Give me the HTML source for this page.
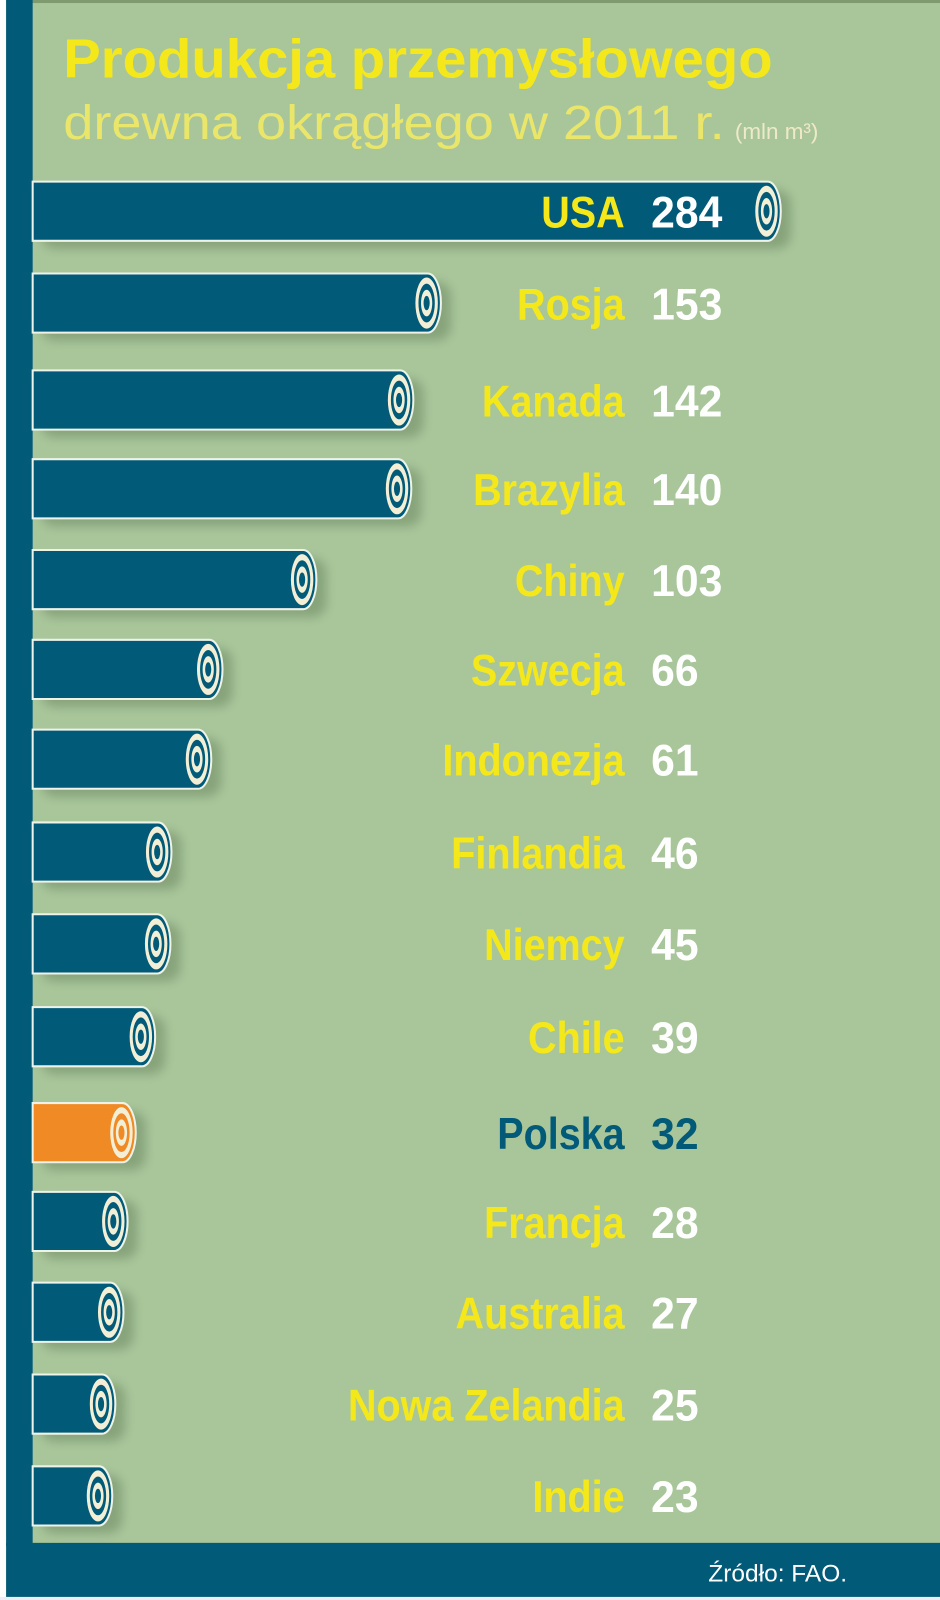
<!DOCTYPE html>
<html><head><meta charset="utf-8"><style>
body{margin:0;width:940px;height:1600px;overflow:hidden;background:#fff}
svg{display:block}
.l{font-family:"Liberation Sans",sans-serif;font-weight:bold;font-size:44px;fill:#f5e81a;text-anchor:end}
.v{font-family:"Liberation Sans",sans-serif;font-weight:bold;font-size:44px;fill:#fff}
</style></head><body>
<svg width="940" height="1600" viewBox="0 0 921 1568" preserveAspectRatio="none">
<defs><filter id="sh" x="-10%" y="-30%" width="130%" height="180%"><feGaussianBlur stdDeviation="5"/></filter></defs>
<rect x="0" y="0" width="921" height="1568" fill="#a9c69b"/>
<rect x="0" y="0" width="921" height="3" fill="#7f9a6e"/>
<rect x="0" y="0" width="6" height="1568" fill="#fff"/>
<rect x="6" y="0" width="26" height="1515" fill="#005a78"/>
<rect x="6" y="1512" width="915" height="53" fill="#005a78"/>
<rect x="0" y="1565" width="921" height="3" fill="#e8f0f4"/>
<text x="62" y="76" font-family="Liberation Sans,sans-serif" font-weight="bold" font-size="54" fill="#f5e81a" textLength="695" lengthAdjust="spacingAndGlyphs">Produkcja przemysłowego</text>
<text x="62" y="136" font-family="Liberation Sans,sans-serif" font-size="47" fill="#eae66a" textLength="648" lengthAdjust="spacingAndGlyphs">drewna okrągłego w 2011 r.</text>
<text x="720" y="136" font-family="Liberation Sans,sans-serif" font-size="22" fill="#efe9c8">(mln m³)</text>
<text x="830" y="1550" font-family="Liberation Sans,sans-serif" font-size="24" fill="#fff" text-anchor="end">Źródło: FAO.</text>
<g id="bars"></g>
</svg>
<script>
var d=[["USA",284,207,765],["Rosja",153,297,432],["Kanada",142,392,405],["Brazylia",140,479,403],["Chiny",103,568,310],["Szwecja",66,656,218],["Indonezja",61,744,207],["Finlandia",46,835,168],["Niemcy",45,925,167],["Chile",39,1016,152],["Polska",32,1110,133],["Francja",28,1197,125],["Australia",27,1286,121],["Nowa Zelandia",25,1376,113],["Indie",23,1466,110]];
var s="";
d.forEach(function(r){
 var cy=r[2],e=r[3],h=58,t=cy-29,col=r[0]=="Polska"?"#f08a24":"#005a78";
 s+='<rect x="40" y="'+(t+8)+'" width="'+(e-30)+'" height="'+h+'" rx="14" fill="#5f7a55" opacity="0.45" filter="url(#sh)"/>';
 s+='<path d="M32 '+t+' H'+(e-13)+' A13 29 0 0 1 '+(e-13)+' '+(t+h)+' H32 Z" fill="'+col+'" stroke="#eef3ea" stroke-width="2"/>';
 var cx=e-14;
 s+='<ellipse cx="'+cx+'" cy="'+cy+'" rx="11" ry="25" fill="#f3efd6"/>';
 s+='<ellipse cx="'+cx+'" cy="'+cy+'" rx="8" ry="19" fill="'+col+'"/>';
 s+='<ellipse cx="'+cx+'" cy="'+cy+'" rx="5.5" ry="13" fill="#f3efd6"/>';
 s+='<ellipse cx="'+cx+'" cy="'+cy+'" rx="3" ry="7" fill="'+col+'"/>';
 var lc=r[0]=="Polska"?' style="fill:#005a78"':'';
 s+='<text class="l" transform="translate(612,'+(cy+16)+') scale(0.88,1)"'+lc+'>'+r[0]+'</text>';
 s+='<text class="v" transform="translate(638,'+(cy+16)+') scale(0.95,1)"'+lc+'>'+r[1]+'</text>';
});
document.getElementById("bars").innerHTML=s;
</script>
</body></html>
